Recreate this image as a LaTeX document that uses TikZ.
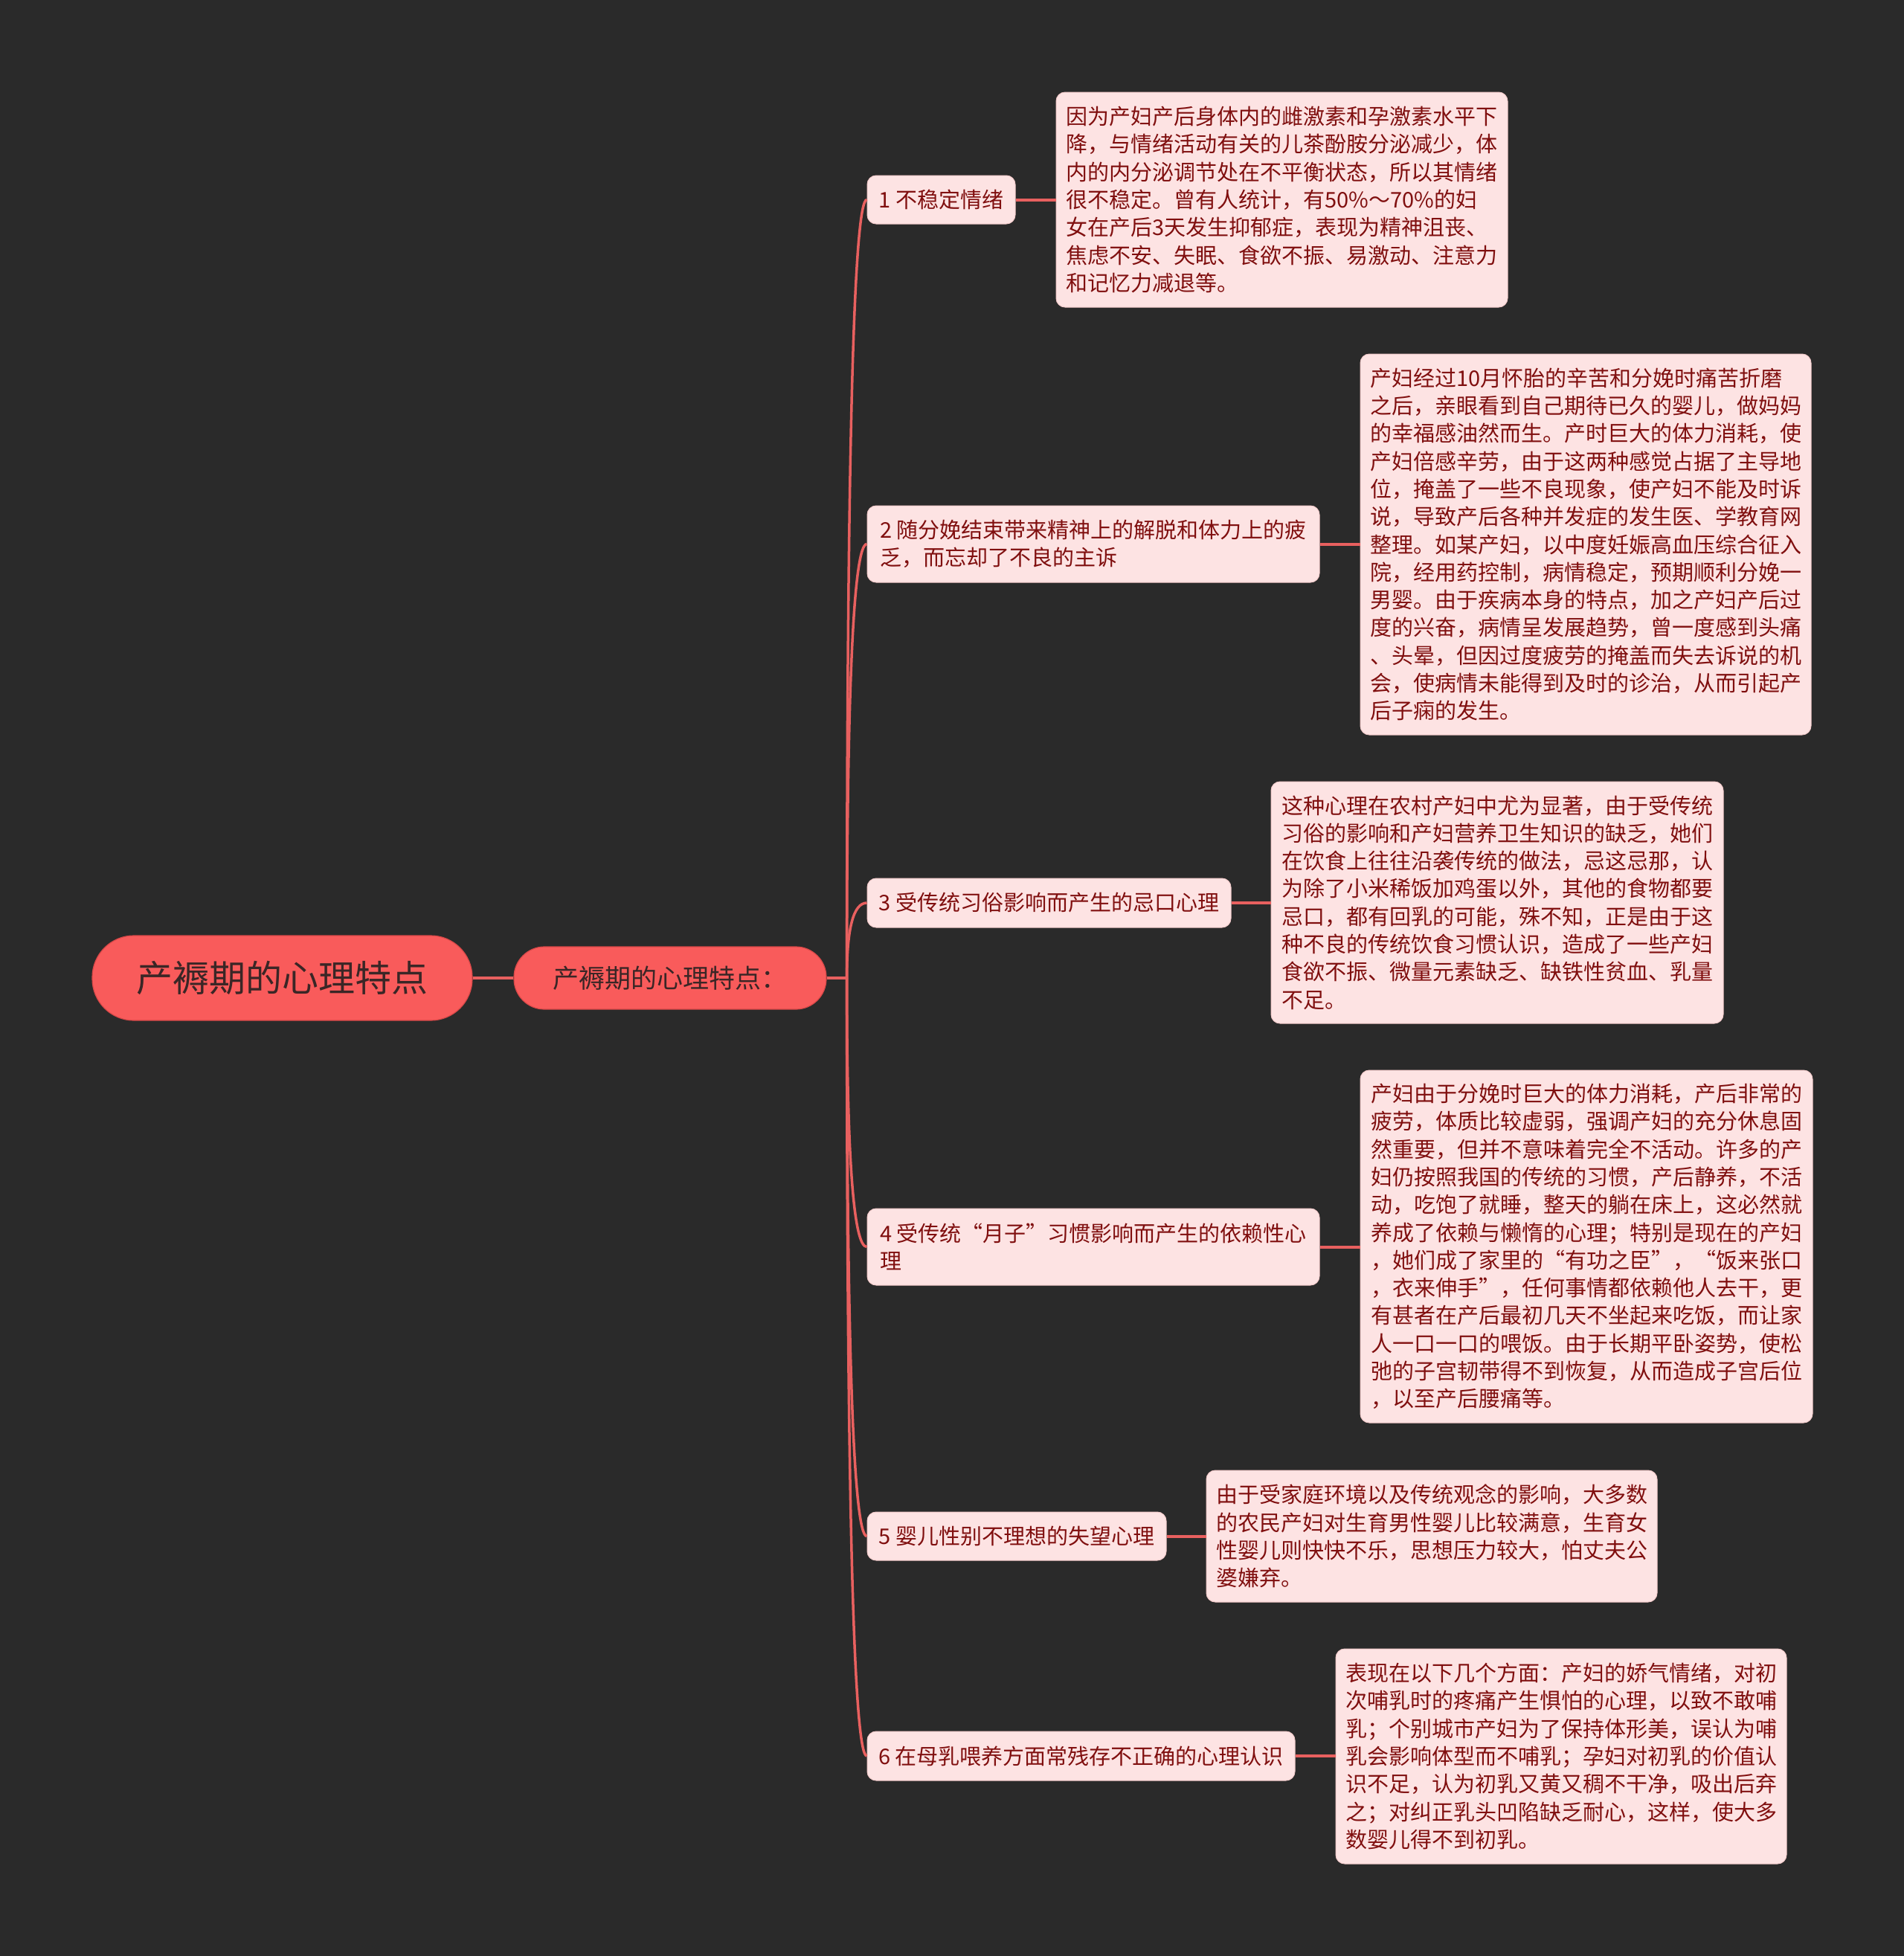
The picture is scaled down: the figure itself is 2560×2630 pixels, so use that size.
\documentclass[tikz,border=0pt]{standalone}
\usepackage{fontspec}
\setmainfont{Noto Sans CJK SC}
\usetikzlibrary{calc}
\definecolor{bg}{HTML}{2A2A2A}
\definecolor{linec}{HTML}{E8605F}
\definecolor{rootfill}{HTML}{F95B5B}
\definecolor{rootdraw}{HTML}{D94848}
\definecolor{roottext}{HTML}{3A2626}
\definecolor{boxfill}{HTML}{FDE3E3}
\definecolor{boxdraw}{HTML}{F2CACA}
\definecolor{boxtext}{HTML}{800F0F}
\begin{document}
\begin{tikzpicture}[x=0.5pt,y=-0.5pt,
  rootbox/.style={fill=rootfill, draw=rootdraw, line width=0.6pt, rounded corners=28pt, inner sep=0pt, text=roottext, font=\fontsize{24.5pt}{30pt}\selectfont},
  subbox/.style={fill=rootfill, draw=rootdraw, line width=0.6pt, rounded corners=20.5pt, inner sep=0pt, text=roottext, font=\fontsize{17.5pt}{22pt}\selectfont},
  item/.style={fill=boxfill, draw=boxdraw, line width=0.5pt, rounded corners=6pt, inner sep=0pt, align=left, text=boxtext, font=\fontsize{14.5pt}{18.65pt}\selectfont},
  link/.style={draw=linec, line width=2pt},
  branch/.style={draw=linec, line width=1.75pt},
]
\fill[bg] (0,0) rectangle (2560,2630);
\useasboundingbox (0,0) rectangle (2560,2630);

\node[rootbox, minimum width=255.5pt, minimum height=57pt] (root) at (379.5,1315) {产褥期的心理特点};
\node[subbox, minimum width=210pt, minimum height=42pt] (sub) at (901,1315) {产褥期的心理特点：};

\node[item, minimum width=99.5pt, minimum height=32.5pt] (c1) at (1265.5,268.5) {1 不稳定情绪};
\node[item, minimum width=304pt, minimum height=51.5pt] (c2) at (1470,731.5) {2 随分娩结束带来精神上的解脱和体力上的疲\\乏，而忘却了不良的主诉};
\node[item, minimum width=244.5pt, minimum height=33pt] (c3) at (1410.5,1214) {3 受传统习俗影响而产生的忌口心理};
\node[item, minimum width=304pt, minimum height=51.5pt] (c4) at (1470,1676.5) {4 受传统“月子”习惯影响而产生的依赖性心\\理};
\node[item, minimum width=201pt, minimum height=32.5pt] (c5) at (1367,2065.5) {5 婴儿性别不理想的失望心理};
\node[item, minimum width=287.5pt, minimum height=33pt] (c6) at (1453.5,2361) {6 在母乳喂养方面常残存不正确的心理认识};

\node[item, minimum width=303.5pt, minimum height=144.5pt] (l1) at (1723.5,268.5) {因为产妇产后身体内的雌激素和孕激素水平下\\降，与情绪活动有关的儿茶酚胺分泌减少，体\\内的内分泌调节处在不平衡状态，所以其情绪\\很不稳定。曾有人统计，有50\%～70\%的妇\\女在产后3天发生抑郁症，表现为精神沮丧、\\焦虑不安、失眠、食欲不振、易激动、注意力\\和记忆力减退等。};
\node[item, minimum width=303pt, minimum height=256pt] (l2) at (2132,732) {产妇经过10月怀胎的辛苦和分娩时痛苦折磨\\之后，亲眼看到自己期待已久的婴儿，做妈妈\\的幸福感油然而生。产时巨大的体力消耗，使\\产妇倍感辛劳，由于这两种感觉占据了主导地\\位，掩盖了一些不良现象，使产妇不能及时诉\\说，导致产后各种并发症的发生医、学教育网\\整理。如某产妇，以中度妊娠高血压综合征入\\院，经用药控制，病情稳定，预期顺利分娩一\\男婴。由于疾病本身的特点，加之产妇产后过\\度的兴奋，病情呈发展趋势，曾一度感到头痛\\、头晕，但因过度疲劳的掩盖而失去诉说的机\\会，使病情未能得到及时的诊治，从而引起产\\后子痫的发生。};
\node[item, minimum width=304pt, minimum height=162.5pt] (l3) at (2013,1213.5) {这种心理在农村产妇中尤为显著，由于受传统\\习俗的影响和产妇营养卫生知识的缺乏，她们\\在饮食上往往沿袭传统的做法，忌这忌那，认\\为除了小米稀饭加鸡蛋以外，其他的食物都要\\忌口，都有回乳的可能，殊不知，正是由于这\\种不良的传统饮食习惯认识，造成了一些产妇\\食欲不振、微量元素缺乏、缺铁性贫血、乳量\\不足。};
\node[item, minimum width=304pt, minimum height=237pt] (l4) at (2133,1676) {产妇由于分娩时巨大的体力消耗，产后非常的\\疲劳，体质比较虚弱，强调产妇的充分休息固\\然重要，但并不意味着完全不活动。许多的产\\妇仍按照我国的传统的习惯，产后静养，不活\\动，吃饱了就睡，整天的躺在床上，这必然就\\养成了依赖与懒惰的心理；特别是现在的产妇\\，她们成了家里的“有功之臣”，“饭来张口\\，衣来伸手”，任何事情都依赖他人去干，更\\有甚者在产后最初几天不坐起来吃饭，而让家\\人一口一口的喂饭。由于长期平卧姿势，使松\\弛的子宫韧带得不到恢复，从而造成子宫后位\\，以至产后腰痛等。};
\node[item, minimum width=303pt, minimum height=88.5pt] (l5) at (1925,2065.5) {由于受家庭环境以及传统观念的影响，大多数\\的农民产妇对生育男性婴儿比较满意，生育女\\性婴儿则快快不乐，思想压力较大，怕丈夫公\\婆嫌弃。};
\node[item, minimum width=303pt, minimum height=144.5pt] (l6) at (2099,2361.5) {表现在以下几个方面：产妇的娇气情绪，对初\\次哺乳时的疼痛产生惧怕的心理，以致不敢哺\\乳；个别城市产妇为了保持体形美，误认为哺\\乳会影响体型而不哺乳；孕妇对初乳的价值认\\识不足，认为初乳又黄又稠不干净，吸出后弃\\之；对纠正乳头凹陷缺乏耐心，这样，使大多\\数婴儿得不到初乳。};

\draw[link] (root.east) -- (sub.west);
\coordinate (trunk) at ($(sub.east)+(27,0)$);
\draw[branch] (sub.east) -- (trunk);
\foreach \c in {c1,c2,c3,c4,c5,c6}{
  \coordinate (k\c) at (trunk |- \c.west);
  \draw[branch] (trunk) .. controls ($(trunk)!0.667!(k\c)$) and ($(\c.west)!0.667!(k\c)$) .. (\c.west);
}
\draw[link] (c1.east) -- (c1.east -| l1.west);
\draw[link] (c2.east) -- (c2.east -| l2.west);
\draw[link] (c3.east) -- (c3.east -| l3.west);
\draw[link] (c4.east) -- (c4.east -| l4.west);
\draw[link] (c5.east) -- (c5.east -| l5.west);
\draw[link] (c6.east) -- (c6.east -| l6.west);
\end{tikzpicture}
\end{document}
